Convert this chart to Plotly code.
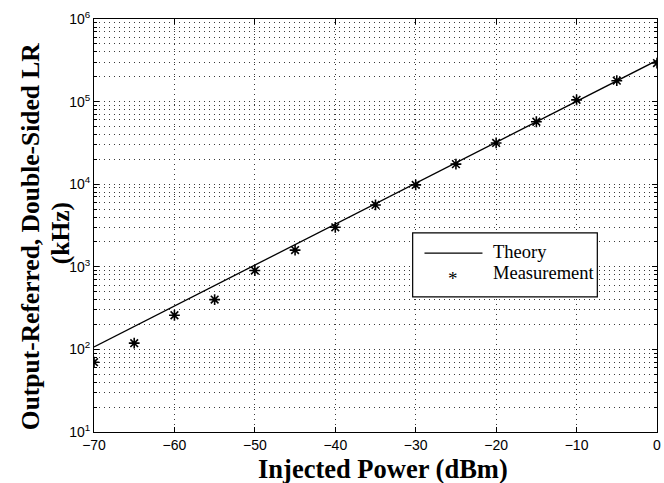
import plotly.graph_objects as go

# Injected power sweep (dBm) and measured double-sided linewidth range (kHz)
power_meas = [-70, -65, -60, -55, -50, -45, -40, -35, -30, -25, -20, -15, -10, -5, 0]
lr_meas = [70, 119, 259, 401, 902, 1593, 3006, 5610, 9800, 17500, 31600, 57000, 105000, 179000, 293000]

# Theory curve (straight line on log scale) end points
power_theory = [-70, 0]
lr_theory = [107, 315000]

# Axis ticks
x_ticks = [-70, -60, -50, -40, -30, -20, -10, 0]
x_tick_text = ["\u221270", "\u221260", "\u221250", "\u221240", "\u221230", "\u221220", "\u221210", "0"]
y_ticks = [10, 100, 1000, 10000, 100000, 1000000]
y_tick_text = ["10<sup>1</sup>", "10<sup>2</sup>", "10<sup>3</sup>", "10<sup>4</sup>",
               "10<sup>5</sup>", "10<sup>6</sup>"]
y_minor = [m * d for d in [10, 100, 1000, 10000, 100000] for m in range(2, 10)]

serif = "Liberation Serif, Times New Roman, serif"

fig = go.Figure()
fig.add_trace(go.Scatter(
    x=power_theory, y=lr_theory, mode="lines", name="Theory",
    line=dict(color="black", width=1.3),
))
fig.add_trace(go.Scatter(
    x=power_meas, y=lr_meas, mode="markers", name="Measurement",
    marker=dict(symbol="asterisk-open", size=9, color="black",
                line=dict(color="black", width=1.6)),
))

grid_color = "#3a3a3a"
grid_dash = "1px,4px"

fig.update_layout(
    width=664, height=483,
    margin=dict(l=94, r=3, t=19, b=51),
    plot_bgcolor="white", paper_bgcolor="white",
    font=dict(family="Liberation Sans, Arial, sans-serif", size=14, color="black"),
    showlegend=False,
)
fig.update_xaxes(
    range=[-70, 0], tickvals=x_ticks, ticktext=x_tick_text,
    ticks="inside", ticklen=5, tickcolor="black", ticklabeloverflow="allow",
    showline=True, linecolor="black", linewidth=1, mirror="ticks",
    showgrid=True, gridcolor=grid_color, griddash=grid_dash, gridwidth=1,
    zeroline=False,
)
fig.update_yaxes(
    type="log", range=[1, 6], tickvals=y_ticks, ticktext=y_tick_text,
    ticks="inside", ticklen=5, tickcolor="black", ticklabeloverflow="allow",
    showline=True, linecolor="black", linewidth=1, mirror="ticks",
    showgrid=True, gridcolor=grid_color, griddash=grid_dash, gridwidth=1,
    zeroline=False,
    minor=dict(tickvals=y_minor, ticks="inside", ticklen=3, tickcolor="black",
               showgrid=True, gridcolor=grid_color, griddash=grid_dash, gridwidth=1),
)

# Axis titles
fig.add_annotation(
    text="<b>Injected Power (dBm)</b>", xref="paper", yref="paper",
    x=0.513, y=-0.0896, xanchor="center", yanchor="middle", showarrow=False,
    font=dict(family=serif, size=26.5),
)
# Two-line y-axis title: each line placed on its own
fig.add_annotation(
    text="<b>Output-Referred, Double-Sided LR</b>", xref="paper", yref="paper",
    x=-0.113, y=0.475, xanchor="center", yanchor="middle", showarrow=False,
    textangle=-90, font=dict(family=serif, size=25.5),
)
fig.add_annotation(
    text="<b>(kHz)</b>", xref="paper", yref="paper",
    x=-0.058, y=0.482, xanchor="center", yanchor="middle", showarrow=False,
    textangle=-90, font=dict(family=serif, size=25.5),
)

# Boxed legend
fig.add_shape(type="rect", xref="paper", yref="paper",
              x0=0.566, x1=0.894, y0=0.327, y1=0.482,
              line=dict(color="black", width=1.2), fillcolor="white", layer="above")
fig.add_shape(type="line", xref="paper", yref="paper",
              x0=0.587, x1=0.690, y0=0.433, y1=0.433,
              line=dict(color="black", width=1.3), layer="above")
fig.add_annotation(text="Theory", xref="paper", yref="paper", x=0.705, y=0.435,
                   xanchor="left", yanchor="middle", showarrow=False,
                   font=dict(family=serif, size=18.5))
fig.add_annotation(text="*", xref="paper", yref="paper", x=0.638, y=0.372,
                   xanchor="center", yanchor="middle", showarrow=False,
                   font=dict(family=serif, size=19))
fig.add_annotation(text="Measurement", xref="paper", yref="paper", x=0.705, y=0.385,
                   xanchor="left", yanchor="middle", showarrow=False,
                   font=dict(family=serif, size=18.5))

fig.write_html("out.html")
